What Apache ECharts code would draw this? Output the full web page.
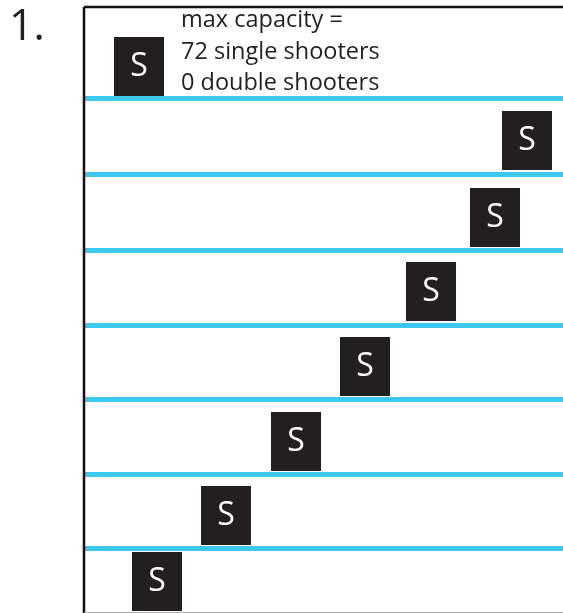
<!DOCTYPE html>
<html>
<head>
<meta charset="utf-8">
<script src="https://cdn.jsdelivr.net/npm/echarts@6/dist/echarts.min.js"></script>
<style>html,body{margin:0;padding:0;background:#fff;}#c{width:563px;height:613px;}</style>
</head>
<body>
<div id="c"></div>
<script>
var panelLabel = '1.';
var noteLines = ['max capacity =', '72 single shooters', '0 double shooters'];
var rowLines = [91, 167.5, 243.5, 318.5, 392.5, 467.5, 541.5];
var shooterX = [55, 443, 411, 347, 281, 212, 142, 73];
var shooterY = [59.5, 133.5, 210.5, 284.5, 359.5, 434.5, 508.5, 574.5];
var shooterLabel = 'S';

var chart = echarts.init(document.getElementById('c'), null, {renderer: 'canvas'});
var pts = shooterX.map(function (x, i) { return [x, shooterY[i]]; });
var GL = 84, GT = 7, GW = 479, GH = 605;
chart.setOption({
  animation: false,
  grid: {left: GL, top: GT, width: GW, height: GH, show: false},
  xAxis: {type: 'value', min: 0, max: GW, show: false},
  yAxis: {type: 'value', min: 0, max: GH, inverse: true, show: false},
  graphic: [
    {type: 'line', shape: {x1: GL, y1: GT, x2: 563, y2: GT}, style: {stroke: '#111', lineWidth: 2.5}, z: 20},
    {type: 'line', shape: {x1: GL, y1: GT, x2: GL, y2: 613}, style: {stroke: '#111', lineWidth: 2.5}, z: 20},
    {type: 'line', shape: {x1: GL, y1: 612.5, x2: 563, y2: 612.5}, style: {stroke: '#aaa', lineWidth: 1}, z: 20},
    {type: 'text', left: 9, top: 6, style: {text: panelLabel, font: '43px "Open Sans"', fill: '#231F20'}},
    {type: 'text', x: 181, y: 20, style: {text: noteLines[0], font: '23.5px "Open Sans"', fill: '#231F20', verticalAlign: 'middle'}, z: 10},
    {type: 'text', x: 181, y: 52, style: {text: noteLines[1], font: '23.5px "Open Sans"', fill: '#231F20', verticalAlign: 'middle'}, z: 10},
    {type: 'text', x: 181, y: 83, style: {text: noteLines[2], font: '23.5px "Open Sans"', fill: '#231F20', verticalAlign: 'middle'}, z: 10}
  ],
  series: [{
    type: 'scatter',
    data: pts,
    symbol: 'rect',
    symbolSize: [50, 59],
    itemStyle: {color: '#231F20', opacity: 1},
    label: {show: true, position: 'inside', formatter: shooterLabel, color: '#fff', fontSize: 32, fontFamily: 'Open Sans'},
    markLine: {
      silent: true,
      symbol: 'none',
      label: {show: false},
      lineStyle: {color: '#3CC8F0', width: 5, type: 'solid', opacity: 1},
      data: rowLines.map(function (v) { return {yAxis: v}; })
    },
    z: 3
  }]
});
</script>
</body>
</html>
